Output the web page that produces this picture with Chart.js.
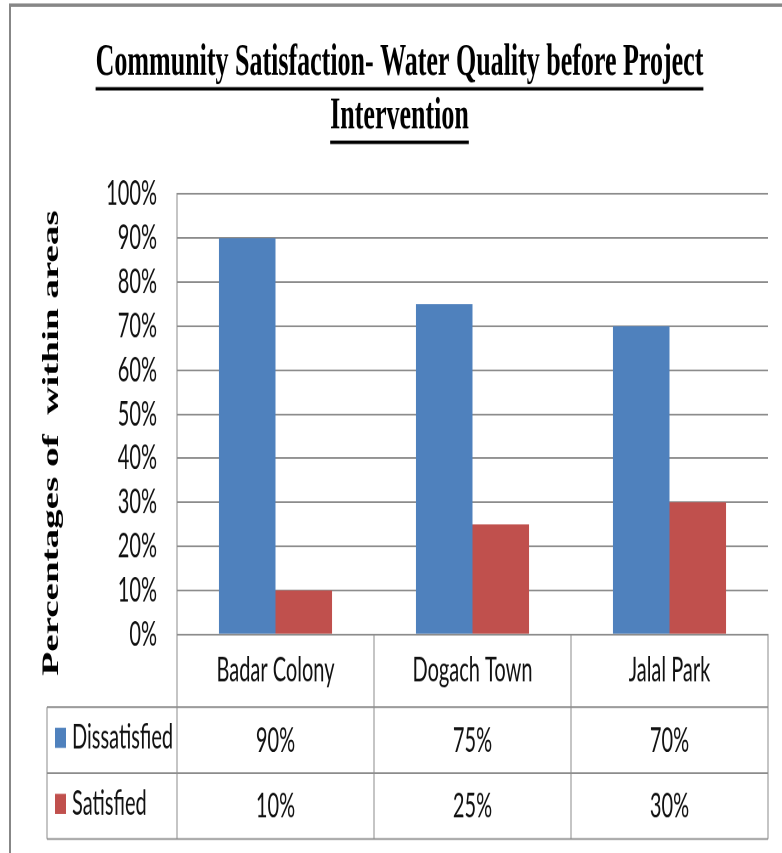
<!DOCTYPE html>
<html>
<head>
<meta charset="utf-8">
<script src="https://cdn.jsdelivr.net/npm/chart.js@4/dist/chart.umd.min.js"></script>
<style>
  html, body { margin: 0; padding: 0; background: #fff; }
  #outer { position: relative; width: 782px; height: 853px; overflow: hidden; }
  #wrap { position: absolute; left: 0; top: 0; width: 782px; height: 502px; transform: scaleY(1.69920); transform-origin: 0 0; }
</style>
</head>
<body>
<div id="outer"><div id="wrap"><canvas id="c" width="782" height="502"></canvas></div></div>
<script>
// ---- data ----
const TITLE_LINES = ['Community Satisfaction- Water Quality before Project', 'Intervention'];
const Y_AXIS_TITLE = 'Percentages of  within areas';
const CATEGORIES = ['Badar Colony', 'Dogach Town', 'Jalal Park'];
const SERIES_NAMES = ['Dissatisfied', 'Satisfied'];
const DISSATISFIED = [90, 75, 70];
const SATISFIED = [10, 25, 30];
const Y_TICKS = [0, 10, 20, 30, 40, 50, 60, 70, 80, 90, 100];

// ---- style ----
const SERIES_COLORS = ['#4F81BD', '#C0504D'];
const GRID = '#8c8c8c';
const TEXT = '#111111';
const LABEL_FONT = { family: 'Lato, "Liberation Sans", sans-serif', size: 20 };
const TITLE_SIZE = 26, TITLE_LH = 31.4, TITLE_PAD_TOP = 21.6;
const HEADER_H = 42.7, ROW_H = 38.85, TABLE_LEFT = 47;

const fmt = v => v + '%';

const framePlugin = {
  id: 'frame',
  beforeDraw(chart) {
    const ctx = chart.ctx;
    ctx.save();
    ctx.fillStyle = '#fff';
    ctx.fillRect(0, 0, chart.width, chart.height);
    ctx.strokeStyle = '#878787';
    ctx.lineWidth = 2;
    ctx.beginPath();
    ctx.moveTo(10, chart.height + 5);
    ctx.lineTo(10, 3);
    ctx.lineTo(chart.width + 5, 3);
    ctx.stroke();
    ctx.restore();
  }
};

const underlinePlugin = {
  id: 'underline',
  afterDraw(chart) {
    const ctx = chart.ctx;
    const tb = chart.titleBlock;
    ctx.save();
    ctx.font = 'bold ' + TITLE_SIZE + 'px "Liberation Serif", serif';
    ctx.strokeStyle = '#000';
    ctx.lineWidth = 2;
    const cx = (tb.left + tb.right) / 2;
    TITLE_LINES.forEach((line, i) => {
      const w = ctx.measureText(line).width;
      const y = tb.top + TITLE_PAD_TOP + TITLE_LH / 2 + i * TITLE_LH + 15;
      ctx.beginPath();
      ctx.moveTo(cx - w / 2, y);
      ctx.lineTo(cx + w / 2, y);
      ctx.stroke();
    });
    ctx.restore();
  }
};

const yTitlePlugin = {
  id: 'ytitle',
  afterDraw(chart) {
    const ctx = chart.ctx;
    ctx.save();
    ctx.translate(58, 260.7);
    ctx.rotate(-Math.PI / 2);
    ctx.font = 'bold 23px "Liberation Serif", serif';
    ctx.fillStyle = '#000';
    ctx.textAlign = 'center';
    ctx.textBaseline = 'alphabetic';
    ctx.fillText(Y_AXIS_TITLE, 0, 0);
    ctx.restore();
  }
};

const tablePlugin = {
  id: 'datatable',
  afterDraw(chart) {
    const ctx = chart.ctx;
    const ca = chart.chartArea;
    const xs = chart.scales.x;
    const n = CATEGORIES.length;
    const r1 = ca.bottom + HEADER_H;
    const rows = [r1, r1 + ROW_H, r1 + 2 * ROW_H];
    const bottom = rows[2];
    ctx.save();
    ctx.strokeStyle = GRID;
    ctx.lineWidth = 1;
    ctx.beginPath();
    for (let i = 0; i <= n; i++) {
      const bx = ca.left + i * ca.width / n;
      ctx.moveTo(bx, ca.bottom);
      ctx.lineTo(bx, bottom);
    }
    ctx.moveTo(TABLE_LEFT, r1);
    ctx.lineTo(TABLE_LEFT, bottom);
    rows.forEach(ry => { ctx.moveTo(TABLE_LEFT, ry); ctx.lineTo(ca.right, ry); });
    ctx.stroke();

    const series = [DISSATISFIED, SATISFIED];
    ctx.font = LABEL_FONT.size + 'px ' + LABEL_FONT.family;
    ctx.textBaseline = 'middle';
    series.forEach((vals, s) => {
      const mid = rows[s] + ROW_H / 2;
      ctx.fillStyle = SERIES_COLORS[s];
      ctx.fillRect(55, mid - 7.2, 11, 11.8);
      ctx.fillStyle = TEXT;
      ctx.textAlign = 'left';
      ctx.fillText(SERIES_NAMES[s], 72, mid - 1.5);
      ctx.textAlign = 'center';
      vals.forEach((v, i) => {
        ctx.fillText(fmt(v), xs.getPixelForValue(i), mid + 0.3);
      });
    });
    ctx.restore();
  }
};

new Chart(document.getElementById('c'), {
  type: 'bar',
  data: {
    labels: CATEGORIES,
    datasets: [
      { label: SERIES_NAMES[0], data: DISSATISFIED, backgroundColor: SERIES_COLORS[0], borderWidth: 0 },
      { label: SERIES_NAMES[1], data: SATISFIED, backgroundColor: SERIES_COLORS[1], borderWidth: 0 }
    ]
  },
  options: {
    responsive: false,
    devicePixelRatio: 2,
    animation: false,
    layout: { padding: { left: 31, right: 14, top: 0, bottom: 85.9 } },
    datasets: { bar: { categoryPercentage: 0.574, barPercentage: 1 } },
    plugins: {
      legend: { display: false },
      tooltip: { enabled: false },
      title: {
        display: true,
        text: TITLE_LINES,
        color: '#000',
        font: { family: '"Liberation Serif", serif', weight: 'bold', size: TITLE_SIZE, lineHeight: TITLE_LH / TITLE_SIZE },
        padding: { top: TITLE_PAD_TOP, bottom: 29.8 }
      }
    },
    scales: {
      x: {
        grid: { display: false, drawTicks: false },
        border: { display: true, color: GRID, width: 1 },
        ticks: { color: TEXT, font: LABEL_FONT, padding: 9.3, maxRotation: 0, autoSkip: false },
        afterFit(scale) { scale.height = HEADER_H; }
      },
      y: {
        min: 0, max: 100,
        afterBuildTicks(scale) { scale.ticks = Y_TICKS.map(v => ({ value: v })); },
        grid: { color: GRID, lineWidth: 1, drawTicks: false },
        border: { display: true, color: GRID, width: 1 },
        ticks: { color: TEXT, font: LABEL_FONT, padding: 20, autoSkip: false, callback: v => fmt(v) },
        afterFit(scale) { scale.width = 146; }
      }
    }
  },
  plugins: [framePlugin, underlinePlugin, yTitlePlugin, tablePlugin]
});
</script>
</body>
</html>
